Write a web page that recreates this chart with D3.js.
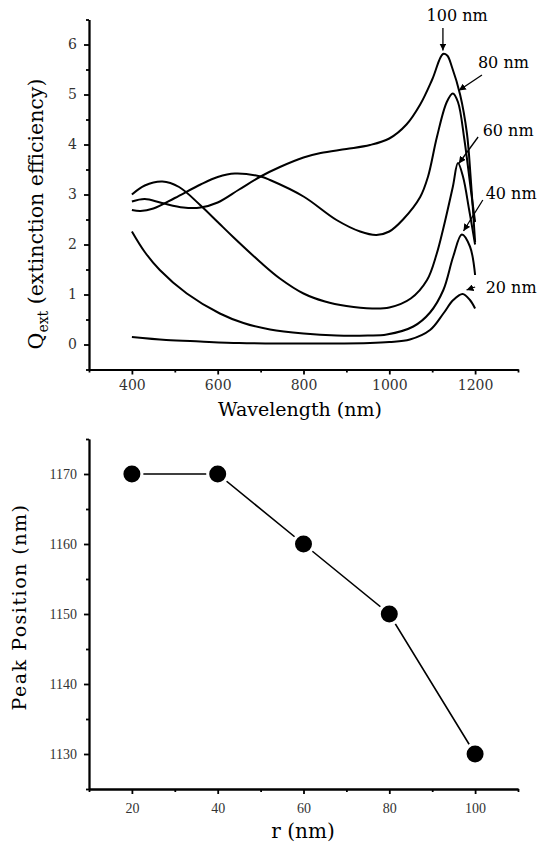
<!DOCTYPE html>
<html lang="en">
<head>
<meta charset="utf-8">
<title>Extinction efficiency and peak position</title>
<script src="https://cdn.jsdelivr.net/npm/d3@7"></script>
<style>
  body { margin: 0; background: #fff; }
  svg { display: block; }
  .axis path, .axis line { stroke: #000; stroke-width: 1.8px; }
  .axis text { fill: #333; }
  .curve { fill: none; stroke: #000; stroke-width: 2px; }
  .arrow { stroke: #000; stroke-width: 1.3px; }
</style>
</head>
<body>
<svg id="chart" width="545" height="843"></svg>
<script>
// Q_ext readings, [wavelength nm, Q]
var q20 = [[400,0.15],[480,0.09],[559,0.06],[650,0.03],[745,0.02],[850,0.02],[955,0.03],[1000,0.05],[1048,0.1],[1095,0.29],[1126,0.62],[1149,0.89],[1171,1.01],[1188,0.89],[1200,0.72]];
var q40 = [[400,2.26],[430,1.85],[465,1.49],[528,1.02],[605,0.62],[660,0.43],[722,0.3],[800,0.22],[877,0.18],[950,0.18],[994,0.2],[1056,0.36],[1095,0.64],[1126,1.09],[1149,1.76],[1169,2.2],[1188,1.96],[1200,1.39]];
var q60 = [[400,3.0],[430,3.18],[471,3.26],[510,3.15],[559,2.79],[600,2.45],[636,2.15],[699,1.65],[745,1.32],[800,1.02],[850,0.86],[900,0.77],[960,0.72],[1000,0.74],[1050,0.92],[1088,1.29],[1110,1.8],[1125,2.29],[1148,3.15],[1160,3.63],[1172,3.35],[1186,2.7],[1200,2.0]];
var q80 = [[400,2.69],[420,2.67],[450,2.72],[500,2.93],[560,3.2],[600,3.35],[640,3.42],[700,3.36],[722,3.29],[800,2.96],[877,2.49],[932,2.26],[970,2.19],[1000,2.26],[1032,2.5],[1072,2.95],[1090,3.35],[1111,4.15],[1134,4.85],[1148,5.02],[1160,4.85],[1175,4.1],[1190,3.1],[1200,2.45]];
var q100 = [[400,2.86],[430,2.91],[470,2.83],[520,2.74],[560,2.74],[600,2.84],[650,3.1],[700,3.36],[745,3.55],[800,3.74],[840,3.83],[900,3.91],[955,3.99],[1000,4.12],[1040,4.4],[1072,4.8],[1100,5.3],[1125,5.81],[1135,5.78],[1146,5.55],[1165,5.0],[1181,4.22],[1190,3.3],[1200,2.05]];

// curve labels: text position and arrow from -> to, in data units
var curveLabels = [
  {text: "100 nm", lx: 1158, ly: 6.59, x1: 1125, y1: 6.33, x2: 1125, y2: 5.88},
  {text: "80 nm",  lx: 1266, ly: 5.65, x1: 1216, y1: 5.39, x2: 1162, y2: 5.08},
  {text: "60 nm",  lx: 1277, ly: 4.29, x1: 1207, y1: 4.15, x2: 1162, y2: 3.62},
  {text: "40 nm",  lx: 1284, ly: 3.03, x1: 1218, y1: 2.89, x2: 1173, y2: 2.27},
  {text: "20 nm",  lx: 1284, ly: 1.15, x1: 1200, y1: 1.15, x2: 1180, y2: 1.09}
];

// peak position vs radius
var radii = [20, 40, 60, 80, 100];
var peaks = [1170, 1170, 1160, 1150, 1130];

var xTop = d3.scaleLinear().domain([300, 1300]).range([89, 518]);
var yTop = d3.scaleLinear().domain([-0.5, 6.5]).range([369.5, 19.5]);
var xBot = d3.scaleLinear().domain([10, 110]).range([89, 518]);
var yBot = d3.scaleLinear().domain([1125, 1175]).range([789, 439]);

var svg = d3.select("#chart");

svg.append("defs").append("marker")
    .attr("id", "head")
    .attr("viewBox", "0 0 10 10")
    .attr("refX", 10).attr("refY", 5)
    .attr("markerWidth", 7).attr("markerHeight", 7)
    .attr("markerUnits", "userSpaceOnUse")
    .attr("orient", "auto")
  .append("path")
    .attr("d", "M0,0 L10,5 L0,10 Z")
    .attr("fill", "#000");

// draws major + minor ticks for one axis
function drawAxis(g, gen, scale, majors, minors, fmt, font, pad) {
  g.append("g").attr("class", "axis")
    .call(gen(scale).tickValues(minors).tickSize(3).tickSizeOuter(0).tickFormat(""));
  var a = g.append("g").attr("class", "axis")
    .call(gen(scale).tickValues(majors).tickSize(5).tickSizeOuter(0).tickPadding(pad).tickFormat(fmt));
  a.selectAll("text").style("font-family", font).style("font-size", "14px");
}

// ---------- top panel ----------
var upper = svg.append("g");
drawAxis(upper.append("g").attr("transform", "translate(0,369.5)"), d3.axisBottom, xTop,
  [400, 600, 800, 1000, 1200], [300, 500, 700, 900, 1100, 1300], d3.format("d"), "DejaVu Serif", 6);
drawAxis(upper.append("g").attr("transform", "translate(89,0)"), d3.axisLeft, yTop,
  [0, 1, 2, 3, 4, 5, 6], [-0.5, 0.5, 1.5, 2.5, 3.5, 4.5, 5.5, 6.5], d3.format("d"), "DejaVu Serif", 7);

var line = d3.line()
    .x(function(d) { return xTop(d[0]); })
    .y(function(d) { return yTop(d[1]); })
    .curve(d3.curveCatmullRom.alpha(0.5));

[q20, q40, q60, q80, q100].forEach(function(s) {
  upper.append("path").attr("class", "curve").attr("d", line(s));
});

curveLabels.forEach(function(c) {
  upper.append("line").attr("class", "arrow")
    .attr("x1", xTop(c.x1)).attr("y1", yTop(c.y1))
    .attr("x2", xTop(c.x2)).attr("y2", yTop(c.y2))
    .attr("marker-end", "url(#head)");
  upper.append("text")
    .attr("x", xTop(c.lx)).attr("y", yTop(c.ly))
    .attr("dy", "0.36em")
    .attr("text-anchor", "middle")
    .style("font-family", "DejaVu Serif").style("font-size", "16px")
    .text(c.text);
});

upper.append("text")
    .attr("x", 300).attr("y", 416)
    .attr("text-anchor", "middle")
    .style("font-family", "DejaVu Serif").style("font-size", "19px")
    .text("Wavelength (nm)");

var yt = upper.append("text")
    .attr("transform", "translate(43,214) rotate(-90)")
    .attr("text-anchor", "middle")
    .style("font-family", "DejaVu Serif").style("font-size", "20.5px");
yt.append("tspan").text("Q");
yt.append("tspan").attr("dy", 5).style("font-size", "14px").text("ext");
yt.append("tspan").attr("dy", -5).text(" (extinction efficiency)");

// ---------- bottom panel ----------
var lower = svg.append("g");
drawAxis(lower.append("g").attr("transform", "translate(0,789)"), d3.axisBottom, xBot,
  [20, 40, 60, 80, 100], [10, 30, 50, 70, 90, 110], d3.format("d"), "Liberation Serif", 9);
drawAxis(lower.append("g").attr("transform", "translate(89,0)"), d3.axisLeft, yBot,
  [1130, 1140, 1150, 1160, 1170], [1125, 1135, 1145, 1155, 1165, 1175], d3.format("d"), "Liberation Serif", 7);

var pts = radii.map(function(r, i) { return [r, peaks[i]]; });

lower.append("path")
    .attr("fill", "none").attr("stroke", "#000").attr("stroke-width", 1.6)
    .attr("d", d3.line().x(function(d) { return xBot(d[0]); }).y(function(d) { return yBot(d[1]); })(pts));

lower.selectAll("circle").data(pts).enter().append("circle")
    .attr("cx", function(d) { return xBot(d[0]); })
    .attr("cy", function(d) { return yBot(d[1]); })
    .attr("r", 10)
    .attr("fill", "#000").attr("stroke", "#fff").attr("stroke-width", 3);

lower.append("text")
    .attr("x", 303).attr("y", 838)
    .attr("text-anchor", "middle")
    .style("font-family", "DejaVu Serif").style("font-size", "20px")
    .text("r  (nm)");

lower.append("text")
    .attr("transform", "translate(26,607) rotate(-90)")
    .attr("text-anchor", "middle")
    .style("font-family", "DejaVu Serif").style("font-size", "19px")
    .style("letter-spacing", "1.5px")
    .text("Peak Position (nm)");
</script>
</body>
</html>
